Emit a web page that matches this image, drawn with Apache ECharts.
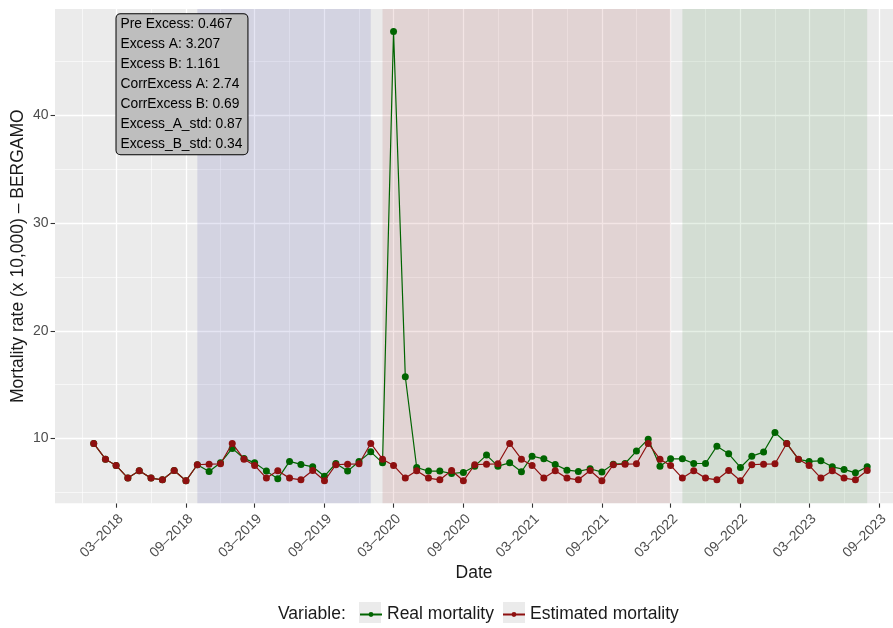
<!DOCTYPE html>
<html><head><meta charset="utf-8">
<script src="https://cdn.jsdelivr.net/npm/echarts@6/dist/echarts.min.js"></script>
<style>html,body{margin:0;padding:0;background:#fff}#c{width:893px;height:628px}</style>
</head><body><div id="c"></div>
<script>
const months = [
 '2018-01-01','2018-02-01','2018-03-01','2018-04-01','2018-05-01','2018-06-01','2018-07-01','2018-08-01','2018-09-01','2018-10-01','2018-11-01','2018-12-01',
 '2019-01-01','2019-02-01','2019-03-01','2019-04-01','2019-05-01','2019-06-01','2019-07-01','2019-08-01','2019-09-01','2019-10-01','2019-11-01','2019-12-01',
 '2020-01-01','2020-02-01','2020-03-01','2020-04-01','2020-05-01','2020-06-01','2020-07-01','2020-08-01','2020-09-01','2020-10-01','2020-11-01','2020-12-01',
 '2021-01-01','2021-02-01','2021-03-01','2021-04-01','2021-05-01','2021-06-01','2021-07-01','2021-08-01','2021-09-01','2021-10-01','2021-11-01','2021-12-01',
 '2022-01-01','2022-02-01','2022-03-01','2022-04-01','2022-05-01','2022-06-01','2022-07-01','2022-08-01','2022-09-01','2022-10-01','2022-11-01','2022-12-01',
 '2023-01-01','2023-02-01','2023-03-01','2023-04-01','2023-05-01','2023-06-01','2023-07-01','2023-08-01'
];
const realMortality = [
 9.53,8.07,7.49,6.31,6.99,6.31,6.15,7.02,6.06,7.55,6.93,7.73,
 9.07,8.14,7.73,6.96,6.24,7.86,7.58,7.36,6.49,7.67,6.96,7.86,
 8.75,7.73,47.82,15.73,7.30,6.96,6.96,6.74,6.84,7.42,8.45,7.42,
 7.73,6.90,8.35,8.10,7.58,7.05,6.93,7.18,6.87,7.61,7.67,8.82,
 9.93,7.42,8.10,8.10,7.67,7.67,9.28,8.57,7.30,8.35,8.73,10.56,
 9.53,8.05,7.86,7.92,7.36,7.12,6.80,7.36
];
const estimatedMortality = [
 9.53,8.07,7.49,6.31,6.99,6.31,6.15,7.02,6.06,7.55,7.61,7.64,
 9.53,8.07,7.49,6.31,6.99,6.31,6.15,7.02,6.06,7.55,7.61,7.64,
 9.53,8.07,7.49,6.31,6.99,6.31,6.15,7.02,6.06,7.55,7.61,7.64,
 9.53,8.07,7.49,6.31,6.99,6.31,6.15,7.02,6.06,7.55,7.61,7.64,
 9.53,8.07,7.49,6.31,6.99,6.31,6.15,7.02,6.06,7.55,7.61,7.64,
 9.53,8.07,7.49,6.31,6.99,6.31,6.15,7.02
];
const xTickDates = ['2018-03-01','2018-09-01','2019-03-01','2019-09-01','2020-03-01','2020-09-01','2021-03-01','2021-09-01','2022-03-01','2022-09-01','2023-03-01','2023-09-01'];
const xTickLabels = ['03–2018','09–2018','03–2019','09–2019','03–2020','09–2020','03–2021','09–2021','03–2022','09–2022','03–2023','09–2023'];
const xMinorDates = ['2017-12-01','2018-06-01','2018-12-01','2019-06-01','2019-12-01','2020-06-01','2020-12-01','2021-06-01','2021-12-01','2022-06-01','2022-12-01','2023-06-01'];
const yTicks = [10,20,30,40];
const yMinor = [5,15,25,35,45];
const xRange = ['2017-09-21','2023-10-08'];
const yRange = [3.97,49.9];
const periodStarts = ['2018-10-01','2020-02-01','2022-04-01'];
const periodEnds = ['2020-01-01','2022-03-01','2023-08-01'];
const periodColors = ['rgba(0,0,139,0.1)','rgba(139,0,0,0.1)','rgba(0,100,0,0.1)'];
const statsLines = ['Pre Excess: 0.467','Excess A: 3.207','Excess B: 1.161','CorrExcess A: 2.74','CorrExcess B: 0.69','Excess_A_std: 0.87','Excess_B_std: 0.34'];
const seriesNames = ['Real mortality','Estimated mortality'];

function ts(s){const p=s.split('-').map(Number);return Date.UTC(p[0],p[1]-1,p[2]);}
const FONT = '"Liberation Sans", Arial, Helvetica, sans-serif';
const tickTs = xTickDates.map(ts);

const chart = echarts.init(document.getElementById('c'), null, {renderer:'canvas'});
const gridLines = [];
xTickDates.forEach(d=>gridLines.push({xAxis: ts(d), lineStyle:{width:1.3}}));
xMinorDates.forEach(d=>gridLines.push({xAxis: ts(d), lineStyle:{width:0.6}}));
yTicks.forEach(v=>gridLines.push({yAxis: v, lineStyle:{width:1.3}}));
yMinor.forEach(v=>gridLines.push({yAxis: v, lineStyle:{width:0.6}}));

chart.setOption({
  animation:false,
  textStyle:{fontFamily:FONT},
  grid:{left:55,right:0,top:9,bottom:124.7,show:true,backgroundColor:'#EBEBEB',borderWidth:0,outerBoundsMode:'none',containLabel:false},
  xAxis:{
    type:'value', min: ts(xRange[0]), max: ts(xRange[1]), scale:true,
    name:'Date', nameLocation:'middle', nameGap:61, nameMoveOverlap:false,
    nameTextStyle:{fontSize:17.5,color:'#1A1A1A',fontFamily:FONT},
    axisLine:{show:false},
    axisTick:{show:true,length:4.4,lineStyle:{color:'#333333',width:1.1},customValues:tickTs},
    axisLabel:{show:true,rotate:45,align:'right',verticalAlign:'top',fontSize:14,color:'#4D4D4D',fontFamily:FONT,margin:8.5,customValues:tickTs,hideOverlap:false,
      formatter:function(v){const i=tickTs.indexOf(v);return i>=0?xTickLabels[i]:'';}},
    splitLine:{show:false},minorSplitLine:{show:false}
  },
  yAxis:{
    type:'value', min:yRange[0], max:yRange[1],
    name:'Mortality rate (x 10,000) – BERGAMO', nameLocation:'middle', nameGap:27.5, nameMoveOverlap:false,
    nameTextStyle:{fontSize:17.5,color:'#1A1A1A',fontFamily:FONT},
    axisLine:{show:false},
    axisTick:{show:true,length:4.4,lineStyle:{color:'#333333',width:1.1},customValues:yTicks},
    axisLabel:{show:true,fontSize:14,color:'#4D4D4D',fontFamily:FONT,margin:6.5,customValues:yTicks},
    splitLine:{show:false}
  },
  legend:{
    data:seriesNames, left:359, top:604, padding:0, itemGap:8, itemWidth:22, itemHeight:6,
    textStyle:{fontSize:17.5,color:'#1A1A1A',fontFamily:FONT,lineHeight:21}
  },
  graphic:[
    {type:'rect', shape:{x:359,y:602,width:22,height:21}, style:{fill:'#EBEBEB'}, z:1, silent:true},
    {type:'rect', shape:{x:503,y:602,width:22,height:21}, style:{fill:'#EBEBEB'}, z:1, silent:true},
    {type:'text', left:278, top:605, z:5, style:{text:'Variable:', font:'17.5px '+FONT, fill:'#1A1A1A'}},
    {type:'text', left:115.5, top:13.3, z:100, style:{text:statsLines.join('\n'), font:'13.8px '+FONT, fill:'#000000', backgroundColor:'#BEBEBE', borderColor:'#000000', borderWidth:1, borderRadius:4, padding:[0,5,0,4], lineHeight:20}}
  ],
  series:[
    {name:'gridlines', type:'line', data:[[ts(months[0]), estimatedMortality[0]]], showSymbol:false, lineStyle:{opacity:0}, silent:true, z:1,
      markLine:{silent:true, z:1, symbol:['none','none'], label:{show:false}, lineStyle:{color:'#FFFFFF',type:'solid'}, emphasis:{disabled:true}, data:gridLines}},
    {name:'periods', type:'line', data:[[ts(months[0]), estimatedMortality[0]]], showSymbol:false, lineStyle:{opacity:0}, silent:true, z:2,
      markArea:{silent:true, z:2, emphasis:{disabled:true}, data: periodStarts.map((s,i)=>[{xAxis:ts(s), itemStyle:{color:periodColors[i]}},{xAxis:ts(periodEnds[i])}])}},
    {name:seriesNames[0], type:'line', z:3, data: months.map((m,i)=>[ts(m), realMortality[i]]), symbol:'circle', symbolSize:7, showAllSymbol:true,
      itemStyle:{color:'#006400'}, lineStyle:{width:1.2,color:'#006400'}},
    {name:seriesNames[1], type:'line', z:4, data: months.map((m,i)=>[ts(m), estimatedMortality[i]]), symbol:'circle', symbolSize:7, showAllSymbol:true,
      itemStyle:{color:'#8E1010'}, lineStyle:{width:1.2,color:'#8E1010'}}
  ]
});
</script></body></html>
